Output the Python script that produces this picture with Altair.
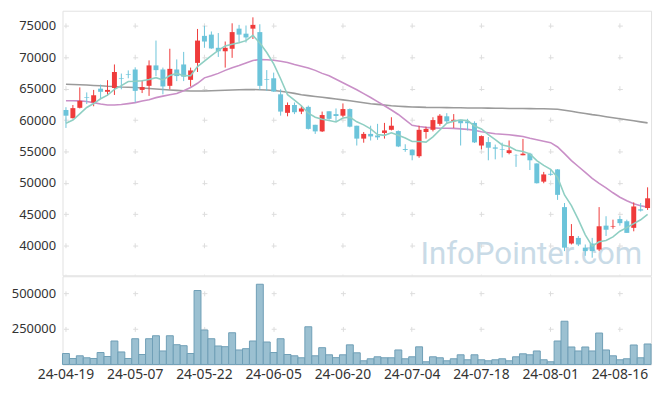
import altair as alt
import pandas as pd

dates = ["24-04-19","24-04-22","24-04-23","24-04-24","24-04-25","24-04-26","24-04-29","24-04-30",
         "24-05-02","24-05-03","24-05-07","24-05-08","24-05-09","24-05-10","24-05-13","24-05-14",
         "24-05-16","24-05-17","24-05-20","24-05-21","24-05-22","24-05-23","24-05-24","24-05-27",
         "24-05-28","24-05-29","24-05-30","24-05-31","24-06-03","24-06-04","24-06-05","24-06-07",
         "24-06-10","24-06-11","24-06-12","24-06-13","24-06-14","24-06-17","24-06-18","24-06-19",
         "24-06-20","24-06-21","24-06-24","24-06-25","24-06-26","24-06-27","24-06-28","24-07-01",
         "24-07-02","24-07-03","24-07-04","24-07-05","24-07-08","24-07-09","24-07-10","24-07-11",
         "24-07-12","24-07-15","24-07-16","24-07-17","24-07-18","24-07-19","24-07-22","24-07-23",
         "24-07-24","24-07-25","24-07-26","24-07-29","24-07-30","24-07-31","24-08-01","24-08-02",
         "24-08-05","24-08-06","24-08-07","24-08-08","24-08-09","24-08-12","24-08-13","24-08-14",
         "24-08-16","24-08-19","24-08-20","24-08-21","24-08-22"]

opens = [61600,60300,61950,63650,62800,65000,64500,65100,66650,67300,
         68050,64800,65450,68700,68050,65450,68050,68850,66400,69100,
         73400,73600,71500,70950,71350,74550,73750,74550,74000,66500,
         66650,64100,61150,62400,61350,62100,59250,58200,61400,60950,
         60700,61750,59100,57050,57800,57550,57950,58450,58250,55400,
         55300,54250,58100,58450,59400,60600,59800,60050,59800,59550,
         55950,56500,55650,55400,54750,54450,54400,54650,53100,50200,
         51450,52150,46150,40350,41250,39700,40350,39400,43200,43050,
         44250,43900,42850,45800,46000]
highs = [62050,62400,65200,64400,64800,65650,66350,68850,67400,67900,
         68400,66300,69500,72650,68350,71350,69650,70850,68350,74500,
         75000,74100,73850,72500,75400,75150,75050,76350,75250,67950,
         67550,64900,62800,62800,62300,62300,59250,61350,61400,61850,
         62650,61850,59100,58100,59100,59400,59550,60450,58350,56150,
         55300,59100,58950,60450,60950,61100,60950,60050,60200,59800,
         57550,57300,56100,56400,56750,54550,57000,54800,53100,51750,
         52200,52200,46800,43450,41550,40200,41250,46150,44700,44150,
         44700,44150,46900,46800,49300]
lows = [58750,60250,61850,62550,62200,63350,63850,64000,64900,66650,
        62800,64300,63850,67000,64100,64900,66200,66200,65350,67650,
        71500,71350,70050,68350,69900,72350,72350,72900,64800,64650,
        64500,60700,60600,60950,60950,58500,57800,58100,60050,59750,
        60450,58850,55950,56400,56750,56850,57050,58350,55700,54950,
        53600,54000,57050,58200,59100,59400,58750,55950,58350,56350,
        55350,53600,53750,54050,54550,52550,54400,52050,49900,49950,
        51150,47300,39150,40200,39950,38400,38100,39150,41550,42700,
        43200,42050,42300,45450,45700]
closes = [60700,61900,63050,63550,63950,64500,64800,67650,66550,67200,
          64650,65250,68700,67950,65350,68150,67000,66900,67900,72650,
          72500,71400,70950,71500,74000,73600,73150,75150,65450,66400,
          64550,61350,62400,61250,61850,58600,58200,60800,60200,60650,
          61750,58950,57050,57800,57400,57250,58350,59100,55800,55250,
          54400,58450,58600,60000,60700,59800,60050,59500,59500,56450,
          57450,55600,55450,55300,55200,54400,54650,53600,49950,51350,
          51300,48100,39700,41550,40200,39150,39150,43100,42550,43150,
          43600,42050,46250,45600,47550]
volumes = [77000,42000,61000,47000,42000,84000,56000,165000,88000,42000,
           181000,70000,181000,202000,95000,202000,139000,132000,77000,520000,
           242000,181000,130000,125000,223000,102000,111000,165000,564000,158000,
           84000,181000,70000,61000,47000,265000,61000,118000,68000,48000,
           68000,138000,82000,26000,40000,54000,47000,47000,102000,40000,
           54000,124000,19000,54000,47000,26000,40000,68000,33000,68000,
           33000,26000,33000,40000,26000,54000,75000,68000,95000,33000,
           19000,165000,304000,123000,95000,123000,95000,221000,102000,61000,
           33000,40000,137000,47000,144000]
ma5 = [59500,60000,61000,62000,62630,63390,63970,64890,65490,66140,
       66170,66260,66470,66750,66380,67080,67430,67070,67060,68520,
       69390,70270,71080,71800,72070,72290,72640,73480,72270,70750,
       68940,66580,64030,63190,62280,61090,60460,60140,59930,59690,
       60320,60470,59720,59240,58590,57690,57570,57980,57580,57150,
       56580,56600,56500,57340,58430,59510,59830,60010,59910,59060,
       58590,57700,56890,56050,55800,55190,55000,54630,53560,52790,
       52170,50860,48080,46400,44170,41740,39950,40630,40830,41420,
       42310,42890,43520,44130,45010]
ma20 = [63070,63070,63050,62970,62780,62550,62390,62390,62470,62620,
        62780,63020,63250,63570,63810,64040,64230,64670,65180,65860,
        66720,67040,67430,67910,68330,68690,69090,69480,69640,69590,
        69530,69370,69170,68850,68580,68300,67910,67430,67040,66490,
        65940,65380,64830,64200,63600,62940,62280,61600,60890,60020,
        59160,58970,58840,58760,58710,58710,58680,58600,58520,58370,
        58130,57970,57820,57740,57660,57530,57390,57110,56870,56630,
        56400,55720,54660,53560,52610,51670,50720,49930,49220,48430,
        47720,47170,46700,46380,46150]
ma60 = [65700,65670,65620,65570,65510,65450,65380,65340,65270,65230,
        65180,65100,65020,64940,64860,64780,64720,64670,64640,64630,
        64630,64660,64710,64750,64780,64820,64850,64860,64830,64780,
        64710,64590,64440,64250,64040,63890,63760,63620,63490,63350,
        63210,63070,62910,62750,62610,62500,62390,62280,62200,62140,
        62090,62060,62020,62010,61990,61980,61960,61950,61930,61910,
        61910,61900,61880,61870,61850,61850,61840,61820,61800,61790,
        61770,61730,61570,61390,61220,61050,60870,60720,60540,60370,
        60210,60040,59880,59710,59550]

price_ticks = [40000, 45000, 50000, 55000, 60000, 65000, 70000, 75000]
volume_ticks = [250000, 500000]
x_ticks = dates[::10]

df = pd.DataFrame({
    "date": dates, "open": opens, "high": highs, "low": lows, "close": closes,
    "volume": volumes, "ma5": ma5, "ma20": ma20, "ma60": ma60,
})
grid_df = pd.DataFrame({"date": x_ticks})

UP = "#ef3b3b"
DOWN = "#6cc4da"
GRID = "#dddddd"
W = 594
H_PRICE = 267
H_VOL = 89
step10 = W / 85 * 10
PMIN, PMAX = 35300, 77400
VMAX = 620000

xscale = alt.Scale(domain=dates, paddingInner=0, paddingOuter=0)
price_scale = alt.Scale(domain=[PMIN, PMAX], nice=False, zero=False)
vol_scale = alt.Scale(domain=[0, VMAX], nice=False)

ygrid = dict(grid=True, gridDash=[5, step10 - 5], gridDashOffset=step10 - (W / 170 - 2.5))

pgap = 5000 * H_PRICE / (PMAX - PMIN)
y_price_axis = alt.Axis(values=price_ticks, format="d", title=None, labelPadding=7,
                        domain=False, labelOverlap=False, **ygrid)

x_price = alt.X("date:O", sort=None, scale=xscale, axis=None)
base = alt.Chart(df).encode(x=x_price)
color_cond = alt.condition("datum.open < datum.close", alt.value(UP), alt.value(DOWN))


def yp(field):
    return alt.Y(field, type="quantitative", scale=price_scale, axis=y_price_axis)


vgrid_price = alt.Chart(grid_df).mark_rule(
    color=GRID, strokeWidth=1, strokeDash=[5, pgap - 5],
    strokeDashOffset=pgap - ((PMAX - 75000) * H_PRICE / (PMAX - PMIN) - 2.5)
).encode(x=x_price)

watermark = alt.Chart(pd.DataFrame({"t": ["InfoPointer.com"]})).mark_text(
    font="Roboto", fontSize=31.5, color="#c9dbe7", align="right", baseline="alphabetic"
).encode(text="t:N", x=alt.value(585), y=alt.value(256))

l60 = base.mark_line(color="#9b9b9b", strokeWidth=1.6).encode(y=yp("ma60"))
l20 = base.mark_line(color="#c98fc7", strokeWidth=1.6).encode(y=yp("ma20"))
wicks = base.mark_rule(strokeWidth=1).encode(y=yp("low"), y2="high:Q", color=color_cond)
bodies = base.mark_bar(size=5).encode(y=yp("open"), y2="close:Q", color=color_cond)
l5 = base.mark_line(color="#8fcfc3", strokeWidth=1.6).encode(y=yp("ma5"))

price = alt.layer(vgrid_price, watermark, l60, l20, wicks, bodies, l5).properties(
    width=W, height=H_PRICE)

vol_gap = 250000 * H_VOL / VMAX
volume = alt.Chart(df).mark_bar(fill="#9bc0d1", stroke="#6f9fb6", strokeWidth=1).encode(
    x=alt.X("date:O", sort=None, scale=xscale,
            axis=alt.Axis(values=x_ticks, labelAngle=0, ticks=False, domain=False, title=None,
                          labelPadding=3, labelFontSize=14,
                          grid=True, gridDash=[5, vol_gap - 5],
                          gridDashOffset=vol_gap - (H_VOL - 500000 * H_VOL / VMAX - 2.5))),
    y=alt.Y("volume:Q", scale=vol_scale,
            axis=alt.Axis(values=volume_ticks, format="d", title=None, labelPadding=7,
                          domain=False, labelOverlap=False, **ygrid)),
).properties(width=W, height=H_VOL)

chart = alt.vconcat(price, volume, spacing=-4).properties(
    padding={"left": 2, "top": 0, "right": 5, "bottom": 5}
).configure_view(stroke="#e2e2e2").configure_axis(
    labelFont="Noto Sans", labelFontSize=13, labelColor="#333333",
    gridColor=GRID, gridWidth=1, tickSize=0,
)

chart.save("out.html", embed_options={"renderer": "svg", "actions": False})
